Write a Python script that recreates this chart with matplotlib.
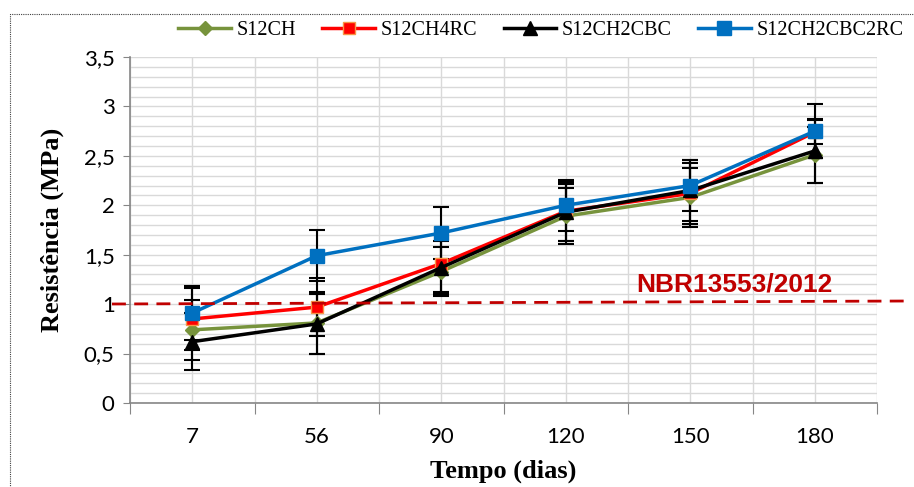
import matplotlib.pyplot as plt
from matplotlib.patches import Rectangle
from matplotlib.ticker import MultipleLocator, FixedLocator

# dados
tempos = ['7', '56', '90', '120', '150', '180']
series = ['S12CH', 'S12CH4RC', 'S12CH2CBC', 'S12CH2CBC2RC']
s12ch = [0.74, 0.81, 1.33, 1.89, 2.08, 2.51]
s12ch4rc = [0.85, 0.97, 1.41, 1.94, 2.12, 2.74]
s12ch2cbc = [0.62, 0.80, 1.37, 1.93, 2.15, 2.55]
s12ch2cbc2rc = [0.91, 1.49, 1.72, 2.00, 2.20, 2.75]
err_s12ch = [0.30, 0.31, 0.25, 0.28, 0.30, 0.28]
err_s12ch4rc = [0.31, 0.29, 0.29, 0.30, 0.31, 0.12]
err_s12ch2cbc = [0.29, 0.30, 0.27, 0.29, 0.31, 0.32]
err_s12ch2cbc2rc = [0.27, 0.26, 0.26, 0.26, 0.26, 0.27]
limite_nbr = 1.0

fig = plt.figure(figsize=(9.14, 4.87), dpi=100)
ax = fig.add_axes([130/914, 1-403/487, (877-130)/914, (403-57)/487])

x = list(range(len(tempos)))
estilos = [
    (s12ch, err_s12ch, '#77933C', 'D', 7, '#77933C'),
    (s12ch4rc, err_s12ch4rc, '#FF0000', 's', 9, '#F79646'),
    (s12ch2cbc, err_s12ch2cbc, '#000000', '^', 10, '#000000'),
    (s12ch2cbc2rc, err_s12ch2cbc2rc, '#0070C0', 's', 10, '#0070C0'),
]
for nome, (vals, err, cor, mk, ms, mec) in zip(series, estilos):
    ax.errorbar(x, vals, yerr=err, fmt='none', ecolor='black', elinewidth=1.5,
                capsize=6, capthick=1.5, zorder=2)
for nome, (vals, err, cor, mk, ms, mec) in zip(series, estilos):
    ax.plot(x, vals, color=cor, lw=2.5, marker=mk, ms=ms, mfc=cor, mec=mec,
            mew=1, label=nome, zorder=3)

ax.set_xlim(-0.5, 5.5)
ax.set_ylim(0, 3.5)
ax.yaxis.set_major_locator(MultipleLocator(0.5))
ax.yaxis.set_minor_locator(MultipleLocator(0.1))
ax.set_yticks([0, 0.5, 1, 1.5, 2, 2.5, 3, 3.5])
ax.set_yticklabels(['0', '0,5', '1', '1,5', '2', '2,5', '3', '3,5'],
                   fontname='Lato', fontsize=16)
ax.xaxis.set_major_locator(FixedLocator([i - 0.5 for i in range(7)]))
ax.xaxis.set_minor_locator(FixedLocator(x))
ax.set_xticklabels([''] * 7)
ax.set_xticks(x, minor=True)
ax.set_xticklabels(tempos, minor=True, fontname='Lato', fontsize=16)
ax.tick_params(axis='x', which='major', length=8, color='#868686')
ax.tick_params(axis='x', which='minor', length=0, pad=17)
ax.tick_params(axis='y', which='major', length=5, color='#868686', pad=6)
ax.tick_params(axis='y', which='minor', length=0)
ax.grid(True, which='both', color='#D9D9D9', lw=1)
ax.set_axisbelow(True)
for s in ['top', 'right']:
    ax.spines[s].set_visible(False)
for s in ['left', 'bottom']:
    ax.spines[s].set_color('#868686')
    ax.spines[s].set_linewidth(1.2)

ax.set_xlabel('Tempo (dias)', fontname='Liberation Serif', fontweight='bold',
              fontsize=19, labelpad=9)
ax.set_ylabel('Resistência (MPa)', fontname='Liberation Serif', fontweight='bold',
              fontsize=19, labelpad=14)

# linha da norma
fig.add_artist(plt.Line2D([112/914, 910/914], [1-304/487, 1-301/487],
                          color='#C00000', lw=2, ls=(0, (5, 3))))
ax.text(3.57, 1.2, 'NBR13553/2012', color='#C00000', fontname='Liberation Sans',
        fontweight='bold', fontsize=19, va='center', ha='left')

leg = fig.legend(loc='center', bbox_to_anchor=(0.592, 1-30/487), ncol=4,
                 frameon=False, prop={'family': 'Liberation Serif', 'size': 14.5},
                 handlelength=2.6, columnspacing=1.3, handletextpad=0.3)

fig.add_artist(Rectangle((10/914, -0.05), 1.2, 1-14/487+0.05, transform=fig.transFigure,
                         fill=False, ls=(0, (1, 1)), lw=0.8, color='#404040'))

fig.savefig('out.png', dpi=100)
